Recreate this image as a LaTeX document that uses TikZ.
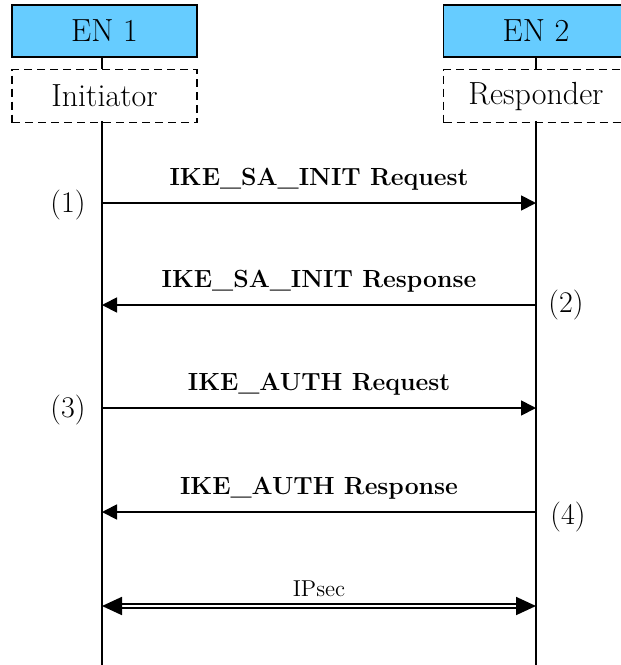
\documentclass[tikz,border=0pt]{standalone}
\usetikzlibrary{positioning,arrows.meta}
\definecolor{enblue}{HTML}{66CCFF}
\tikzset{
    entity/.style={draw, line width=0.9pt, fill=enblue, minimum width=92.5pt,
        minimum height=26pt, inner sep=0pt, font=\fontsize{16}{18}\selectfont},
    role/.style={draw, line width=0.7pt, dash pattern=on 4pt off 2.5pt,
        minimum width=92.5pt, minimum height=26.5pt, inner sep=0pt,
        font=\fontsize{16}{18}\selectfont},
    lifeline/.style={line width=0.8pt},
    msg/.style={line width=0.9pt, -{Triangle[length=7.5pt,width=7.5pt]}},
    msglabel/.style={font=\fontsize{12.4}{14}\selectfont\bfseries, above=2.5pt},
    stepnum/.style={font=\fontsize{15}{17}\selectfont},
    tunnel/.style={double, line width=0.9pt, double distance=1.2pt,
        {Triangle[length=10pt,width=9pt]}-{Triangle[length=10pt,width=9pt]}},
}
\begin{document}
\begin{tikzpicture}[x=0.5pt, y=-0.5pt]
    \useasboundingbox (0,0) rectangle (621,665);
    \clip (0,0) rectangle (621,665);
    % EN 1, initiator
    \node[entity] (en1) at (104.5,31) {EN 1};
    \node[role, below=5.5pt of en1] (init) {Initiator};
    % EN 2, responder
    \node[entity] (en2) at (536,31) {EN 2};
    \node[role, below=5.5pt of en2] (resp) {Responder};

    % lifelines
    \coordinate (i0) at (102,121);
    \coordinate (i9) at (102,665);
    \coordinate (r0) at (536,121);
    \coordinate (r9) at (536,665);
    \draw[lifeline] (en1.south -| i0) -- (init.north -| i0);
    \draw[lifeline] (en2.south) -- (resp.north);
    \draw[lifeline] (i0) -- (i9);
    \draw[lifeline] (r0) -- (r9);

    % messages
    \coordinate (i1) at (102,203);  \coordinate (r1) at (536,203);
    \coordinate (i2) at (102,305);  \coordinate (r2) at (536,305);
    \coordinate (i3) at (102,408);  \coordinate (r3) at (536,408);
    \coordinate (i4) at (102,512);  \coordinate (r4) at (536,512);
    \coordinate (i5) at (102,606);  \coordinate (r5) at (536,606);

    \draw[msg] (i1) -- node[msglabel] {IKE\_SA\_INIT Request} (r1);
    \draw[msg] (r2) -- node[msglabel] {IKE\_SA\_INIT Response} (i2);
    \draw[msg] (i3) -- node[msglabel] {IKE\_AUTH Request} (r3);
    \draw[msg] (r4) -- node[msglabel] {IKE\_AUTH Response} (i4);
    \draw[tunnel] (i5) -- node[above=1pt, font=\fontsize{11.5}{13}\selectfont] {IPsec} (r5);

    % step numbers
    \node[stepnum] (s1) at (68,205) {(1)};
    \node[stepnum] (s2) at (566,305) {(2)};
    \node[stepnum] (s3) at (68,410) {(3)};
    \node[stepnum] (s4) at (568,517) {(4)};
\end{tikzpicture}
\end{document}
